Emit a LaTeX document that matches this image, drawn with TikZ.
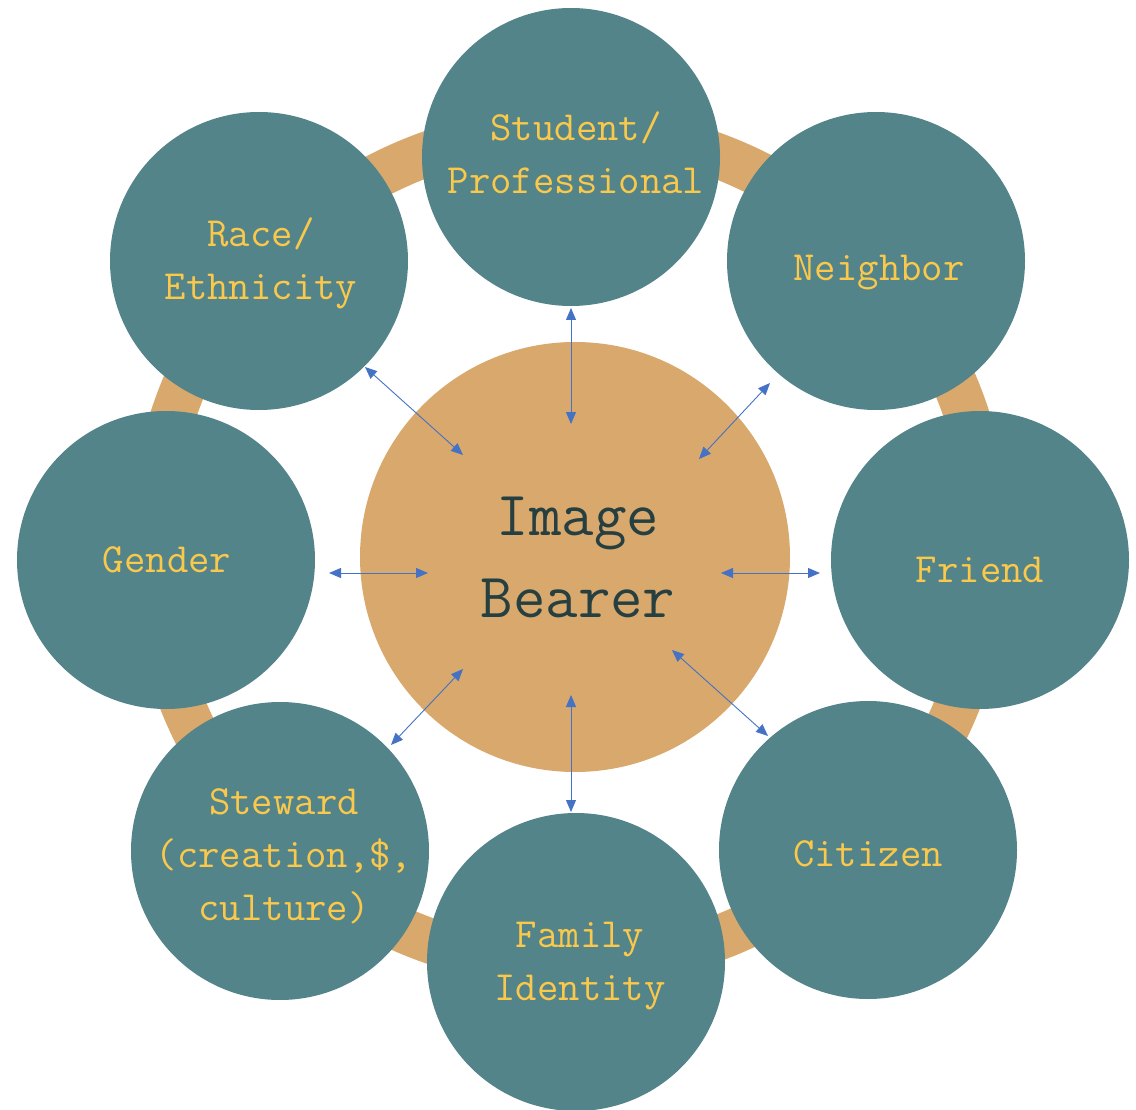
\documentclass[tikz,border=0pt]{standalone}
\usepackage{fontspec}
\usetikzlibrary{arrows.meta}
\definecolor{teal}{RGB}{83,132,137}
\definecolor{tan}{RGB}{216,168,108}
\definecolor{gold}{RGB}{250,200,75}
\definecolor{ink}{RGB}{38,63,64}
\definecolor{linkblue}{RGB}{68,114,196}
\begin{document}
\begin{tikzpicture}[x=1pt,y=-1pt,
  role/.style={circle,fill=teal,minimum size=298pt,inner sep=0pt},
  core/.style={circle,fill=tan,minimum size=430pt,inner sep=0pt},
  roletext/.style={anchor=base,align=center,text=gold,inner sep=0pt,
    font=\ttfamily\fontsize{41.5}{53}\selectfont},
  coretext/.style={anchor=base,align=center,text=ink,inner sep=0pt,
    font=\ttfamily\fontsize{63}{82}\selectfont},
  link/.style={draw=linkblue,line width=0.9pt,
    {Triangle[length=12pt,width=10pt]}-{Triangle[length=12pt,width=10pt]}}]
\useasboundingbox (0,0) rectangle (1136,1110);

% connecting ring behind the role circles
\draw[tan,line width=45pt] (570,547) circle[radius=418];

% role circles
\node[role] (student)  at (571,157) {};
\node[role] (neighbor) at (876,261) {};
\node[role] (friend)   at (980,560) {};
\node[role] (citizen)  at (868,850) {};
\node[role] (family)   at (576,962) {};
\node[role] (steward)  at (280,851) {};
\node[role] (gender)   at (166,560) {};
\node[role] (race)     at (259,261) {};

% central circle
\node[core] (bearer) at (575,557) {};

% arrow end points
\coordinate (s1) at (571,308); \coordinate (s2) at (571,424);
\coordinate (n1) at (770,383); \coordinate (n2) at (699,459);
\coordinate (f1) at (820,573); \coordinate (f2) at (721,573);
\coordinate (c1) at (768,736); \coordinate (c2) at (672,650);
\coordinate (y1) at (571,812); \coordinate (y2) at (571,695);
\coordinate (w1) at (391,745); \coordinate (w2) at (463,669);
\coordinate (g1) at (329,573); \coordinate (g2) at (428,573);
\coordinate (r1) at (365,367); \coordinate (r2) at (463,455);

\draw[link] (s1) -- (s2);
\draw[link] (n1) -- (n2);
\draw[link] (f1) -- (f2);
\draw[link] (c1) -- (c2);
\draw[link] (y1) -- (y2);
\draw[link] (w1) -- (w2);
\draw[link] (g1) -- (g2);
\draw[link] (r1) -- (r2);

% labels
\node[roletext] (tstudent)  at (576,194) {Student/\\Professional};
\node[roletext] (tneighbor) at (879,281) {Neighbor};
\node[roletext] (tfriend)   at (980,582) {Friend};
\node[roletext] (tcitizen)  at (868,866) {Citizen};
\node[roletext] (tfamily)   at (580,1000) {Family\\Identity};
\node[roletext] (tsteward)  at (284,920) {Steward\\(creation,\$,\\culture)};
\node[roletext] (tgender)   at (167,572) {Gender};
\node[roletext] (trace)     at (261,300) {Race/\\Ethnicity};
\node[coretext] (tbearer)   at (578,617) {Image\\Bearer};
\end{tikzpicture}
\end{document}
